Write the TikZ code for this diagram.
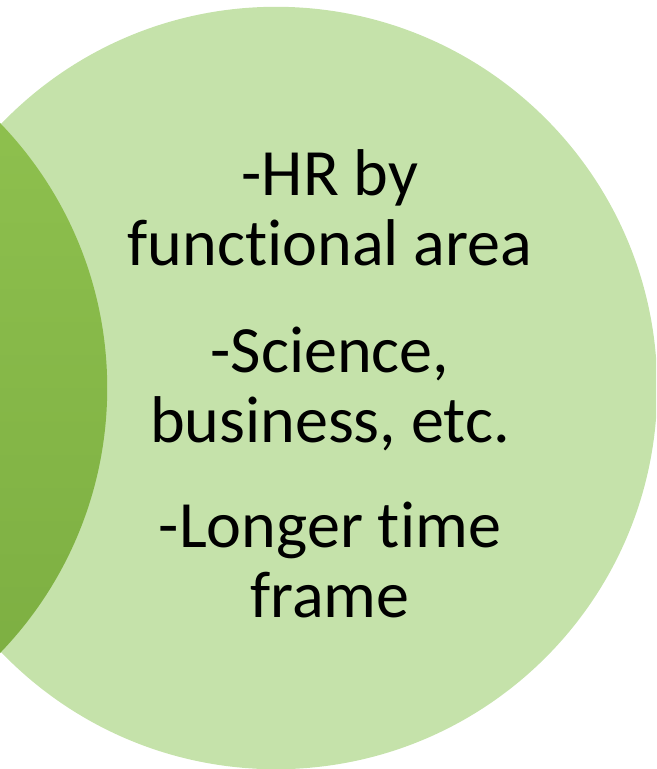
\documentclass[tikz,border=0pt]{standalone}
\usepackage{fontspec}
\setmainfont{Carlito}[Ligatures=NoCommon]
\definecolor{palegreen}{RGB}{197,226,170}
\definecolor{leaftop}{RGB}{145,195,80}
\definecolor{leafbot}{RGB}{122,172,64}
\begin{document}
\begin{tikzpicture}[x=0.01cm,y=-0.01cm,
  blob/.style={circle, inner sep=0pt, minimum size=7.62cm},
  txt/.style={align=center, anchor=base, inner sep=0pt,
    font=\fontsize{18.8pt}{19.9pt}\selectfont}]
\useasboundingbox (0,0) rectangle (656,769);
\clip (0,0) rectangle (656,769);
\node[blob, fill=palegreen] (big) at (276,388) {};
\node[blob, top color=leaftop, bottom color=leafbot] (side) at (-274,388) {};
% base anchor sits on the last line
\node[txt] (area) at (330,265) {-HR by\\functional area};
\node[txt] (field) at (330,442) {-Science,\\business, etc.};
\node[txt] (time) at (330,617) {-Longer time\\frame};
\end{tikzpicture}
\end{document}
